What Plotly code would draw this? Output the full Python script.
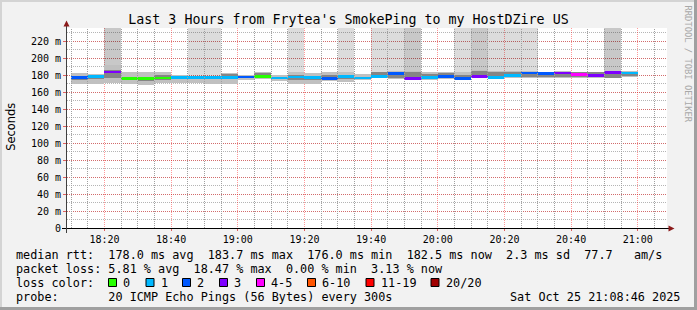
import pandas as pd
import plotly.graph_objects as go

# ---------------- data ----------------
DAY = "2025-10-25"
WINDOW_START = "18:08:46"
WINDOW_END = "21:08:46"
STEP_MS = 300000  # 300 s steps

step_end = ["18:15", "18:20", "18:25", "18:30", "18:35", "18:40", "18:45", "18:50",
            "18:55", "19:00", "19:05", "19:10", "19:15", "19:20", "19:25", "19:30",
            "19:35", "19:40", "19:45", "19:50", "19:55", "20:00", "20:05", "20:10",
            "20:15", "20:20", "20:25", "20:30", "20:35", "20:40", "20:45", "20:50",
            "20:55", "21:00"]
median_ms = [177.0, 178.0, 183.7, 176.3, 176.2, 176.6, 177.0, 177.0, 177.0, 177.2,
             177.6, 178.2, 176.4, 177.8, 176.8, 176.2, 178.0, 176.4, 178.6, 181.4,
             176.3, 177.4, 178.6, 176.3, 178.6, 177.4, 179.4, 182.5, 181.4, 182.5,
             180.6, 179.4, 183.3, 182.5]
lost_pings = [2, 1, 3, 0, 0, 0, 1, 1, 1, 1,
              2, 0, 1, 1, 1, 2, 1, 1, 1, 2,
              3, 1, 2, 2, 3, 1, 1, 2, 2, 3,
              4, 3, 3, 1]
smoke_lo = [169, 170, 171, 169, 168, 171, 171, 171, 170, 170,
            174, 175, 173, 169, 169, 173, 172, 174, 176, 175,
            175, 174, 175, 174, 176, 176, 177, 177, 177, 177,
            177, 177, 176, 178]
smoke_hi = [182, 181, 192, 183, 183, 184, 180, 179, 179, 182,
            180, 184, 180, 183, 182, 184, 183, 181, 184, 185,
            185, 184, 184, 183, 186, 185, 185, 185, 184, 185,
            184, 184, 185, 185]
core_lo = [174, 175, 176, 174, 173, 174, 175, 175, 175, 175,
           176, 177, 175, 174, 174, 175, 175, 175, 177, 177,
           176, 176, 177, 175, 178, 177, 178, 178, 178, 178,
           178, 178, 177, 179]
core_hi = [179, 179, 186, 178, 178, 180, 178, 178, 178, 181,
           179, 182, 178, 180, 179, 180, 180, 178, 183, 184,
           184, 181, 182, 180, 185, 184, 184, 184, 183, 184,
           183, 183, 184, 184]
# full-height loss smoke columns: 0 none, 1 light, 2 dark
loss_column = [0, 0, 2, 0, 0, 0, 0, 1, 1, 0,
               0, 0, 0, 1, 0, 0, 1, 0, 1, 1,
               2, 0, 0, 1, 2, 1, 1, 1, 0, 0,
               0, 0, 2, 0]

loss_labels = ["0", "1", "2", "3", "4-5", "6-10", "11-19", "20/20"]
loss_upper = [0, 1, 2, 3, 5, 10, 19, 20]
loss_colors = ["#26ff00", "#00b8ff", "#0059ff", "#7e00ff", "#ff00ff", "#ff5500", "#ff0000", "#a10000"]

y_ticks = [0, 20, 40, 60, 80, 100, 120, 140, 160, 180, 200, 220]
y_tick_text = ["0", "20 m", "40 m", "60 m", "80 m", "100 m", "120 m", "140 m",
               "160 m", "180 m", "200 m", "220 m"]

title_text = "Last 3 Hours from Frytea's SmokePing to my HostDZire US"
stat_lines = [
    "median rtt:  178.0 ms avg  183.7 ms max  176.0 ms min  182.5 ms now  2.3 ms sd  77.7   am/s",
    "packet loss: 5.81 % avg  18.47 % max  0.00 % min  3.13 % now",
    "loss color:",
    "probe:       20 ICMP Echo Pings (56 Bytes) every 300s",
]
stamp_text = "Sat Oct 25 21:08:46 2025"
watermark = "RRDTOOL / TOBI OETIKER"

# ---------------- layout geometry ----------------
W, H = 697, 310
ML, MR, MT, MB = 67, 30, 28, 82
PW, PH = W - ML - MR, H - MT - MB
Y_TOP = PH / 0.85  # 0.85 px per ms

def fx(x):
    return (x - ML) / PW

def fy(y):
    return (H - MB - y) / PH

MONO = "DejaVu Sans Mono"

x_time = pd.to_datetime([f"{DAY} {t}" for t in step_end])
n = len(step_end)
x_range = [f"{DAY} {WINDOW_START}", f"{DAY} {WINDOW_END}"]
t_start = pd.Timestamp(x_range[0])
t_span = (pd.Timestamp(x_range[1]) - t_start).total_seconds()
minor_times = [t for t in pd.date_range(f"{DAY} 18:10", f"{DAY} 21:05", freq="5min")
               if t.minute % 20 != 0]


def snap_time(t):
    """move a grid time to the centre of its pixel column so the dotted line is crisp"""
    px = ML + (t - t_start).total_seconds() / t_span * PW
    pc = int(px) + 0.5
    return t_start + pd.Timedelta(seconds=(pc - ML) / PW * t_span)


def loss_idx(k):
    for i, u in enumerate(loss_upper):
        if k <= u:
            return i
    return len(loss_upper) - 1


col_colors = {1: "rgba(0,0,0,0.137)", 2: "rgba(0,0,0,0.216)"}

fig = go.Figure()

# 5-minute minor vertical grid drawn as a line trace beneath the bars
gx, gy = [], []
for t in minor_times:
    ts = snap_time(t)
    gx += [ts, ts, None]
    gy += [0, Y_TOP, None]
fig.add_scatter(x=gx, y=gy, mode="lines", hoverinfo="skip", showlegend=False,
                line=dict(color="#a0a0a0", width=1, dash="1px,1px"))

common = dict(x=x_time, width=[STEP_MS] * n, offset=-STEP_MS, hoverinfo="skip",
              showlegend=False, marker_line_width=0)

fig.add_bar(base=smoke_hi,
            y=[(Y_TOP - h) if c else None for h, c in zip(smoke_hi, loss_column)],
            marker_color=[col_colors.get(c, "rgba(0,0,0,0)") for c in loss_column], **common)
fig.add_bar(base=smoke_lo, y=[h - l for l, h in zip(smoke_lo, smoke_hi)],
            marker_color="#c0c0c0", **common)
fig.add_bar(base=core_lo, y=[h - l for l, h in zip(core_lo, core_hi)],
            marker_color="#858585", **common)
fig.add_bar(base=[m - 1.6 for m in median_ms], y=[3.2] * n,
            marker_color=[loss_colors[loss_idx(k)] for k in lost_pings], **common)

major_grid = "rgba(255,0,0,0.40)"
minor_grid = "rgba(90,90,90,0.45)"

fig.update_layout(
    width=W, height=H, autosize=False,
    margin=dict(l=ML, r=MR, t=MT, b=MB, pad=0),
    paper_bgcolor="#f2f2f2", plot_bgcolor="#ffffff",
    barmode="overlay", bargap=0,
    font=dict(family=MONO, size=10, color="#000000"),
    title=dict(text=title_text, x=0.5, xref="container", xanchor="center",
               y=1 - 19.5 / H, yref="container", yanchor="middle",
               font=dict(family=MONO, size=13.3, color="#000000")),
    xaxis=dict(type="date", range=x_range,
               tickformat="%H:%M", dtick=1200000, tick0=f"{DAY} 18:00:00",
               showgrid=True, gridcolor=major_grid, griddash="1px,1px", gridwidth=1,
               ticks="outside", ticklen=2, tickcolor="#e06060",
               tickfont=dict(family=MONO, size=10, color="#000"),
               showline=False, zeroline=False, fixedrange=True),
    yaxis=dict(range=[0, Y_TOP], tickvals=y_ticks, ticktext=y_tick_text,
               showgrid=True, gridcolor=major_grid, griddash="1px,1px", gridwidth=1,
               ticks="outside", ticklen=3, tickcolor="#e06060",
               tickfont=dict(family=MONO, size=10, color="#000"),
               minor=dict(dtick=10, tick0=0, showgrid=True, gridcolor=minor_grid,
                          griddash="1px,1px", gridwidth=1),
               showline=False, zeroline=False, fixedrange=True),
)

shapes = []
# axis lines
shapes.append(dict(type="line", xref="paper", yref="paper",
                   x0=fx(62), x1=fx(670), y0=fy(228.5), y1=fy(228.5),
                   line=dict(color="#000000", width=1)))
shapes.append(dict(type="line", xref="paper", yref="paper",
                   x0=fx(66.5), x1=fx(66.5), y0=fy(233), y1=fy(24),
                   line=dict(color="#404040", width=1)))
# arrow heads
shapes.append(dict(type="path", xref="paper", yref="paper",
                   path=f"M {fx(66.5)} {fy(20.5)} L {fx(63.5)} {fy(26.5)} L {fx(69.5)} {fy(26.5)} Z",
                   fillcolor="#8b1a1a", line=dict(width=0)))
shapes.append(dict(type="path", xref="paper", yref="paper",
                   path=f"M {fx(674.5)} {fy(228.5)} L {fx(668.5)} {fy(225.5)} L {fx(668.5)} {fy(231.5)} Z",
                   fillcolor="#8b1a1a", line=dict(width=0)))
# 3D frame
shapes.append(dict(type="rect", xref="paper", yref="paper", x0=fx(0), x1=fx(W), y0=fy(0), y1=fy(2),
                   fillcolor="#d4d4d4", line=dict(width=0), layer="above"))
shapes.append(dict(type="rect", xref="paper", yref="paper", x0=fx(0), x1=fx(2), y0=fy(0), y1=fy(H),
                   fillcolor="#d4d4d4", line=dict(width=0), layer="above"))
shapes.append(dict(type="rect", xref="paper", yref="paper", x0=fx(0), x1=fx(W), y0=fy(H - 3), y1=fy(H),
                   fillcolor="#a0a0a0", line=dict(width=0), layer="above"))
shapes.append(dict(type="rect", xref="paper", yref="paper", x0=fx(W - 3), x1=fx(W), y0=fy(0), y1=fy(H),
                   fillcolor="#a0a0a0", line=dict(width=0), layer="above"))

# loss colour legend
box_x = [108.5, 146, 182.5, 219.5, 256.5, 307.5, 366, 431]
text_x = [123.3, 160.7, 197.3, 234, 270.5, 322, 380.5, 445.5]
annotations = []
for bx, tx, lab, colr in zip(box_x, text_x, loss_labels, loss_colors):
    shapes.append(dict(type="rect", xref="paper", yref="paper",
                       x0=fx(bx), x1=fx(bx + 8), y0=fy(286.5), y1=fy(278.5),
                       fillcolor=colr, line=dict(color="#000000", width=1)))
    annotations.append(dict(text=lab, x=fx(tx), y=fy(282.5)))

line_y = [254.5, 268.5, 282.5, 296.5]
for txt, ly in zip(stat_lines, line_y):
    annotations.append(dict(text=txt.replace(" ", "\u00a0"), x=fx(16), y=fy(ly)))

ann_all = []
for a in annotations:
    a.update(xref="paper", yref="paper", xanchor="left", yanchor="middle",
             showarrow=False, borderpad=0, borderwidth=0,
             font=dict(family=MONO, size=11.8, color="#000000"))
    ann_all.append(a)

ann_all.append(dict(text=stamp_text, x=fx(681), y=fy(296.5), xref="paper", yref="paper",
                    xanchor="right", yanchor="middle", showarrow=False, borderpad=0,
                    font=dict(family=MONO, size=11.8, color="#000000")))
ann_all.append(dict(text="Seconds", x=fx(10.7), y=fy(127), xref="paper", yref="paper",
                    xanchor="center", yanchor="middle", textangle=-90, showarrow=False,
                    font=dict(family="DejaVu Sans", size=11.4, color="#000000")))
ann_all.append(dict(text=watermark, x=fx(687.5), y=fy(64), xref="paper", yref="paper",
                    xanchor="center", yanchor="middle", textangle=90, showarrow=False,
                    font=dict(family=MONO, size=8.8, color="#a8a8a8")))

fig.update_layout(shapes=shapes, annotations=ann_all)

fig.write_html("out.html", config={"displayModeBar": False})
